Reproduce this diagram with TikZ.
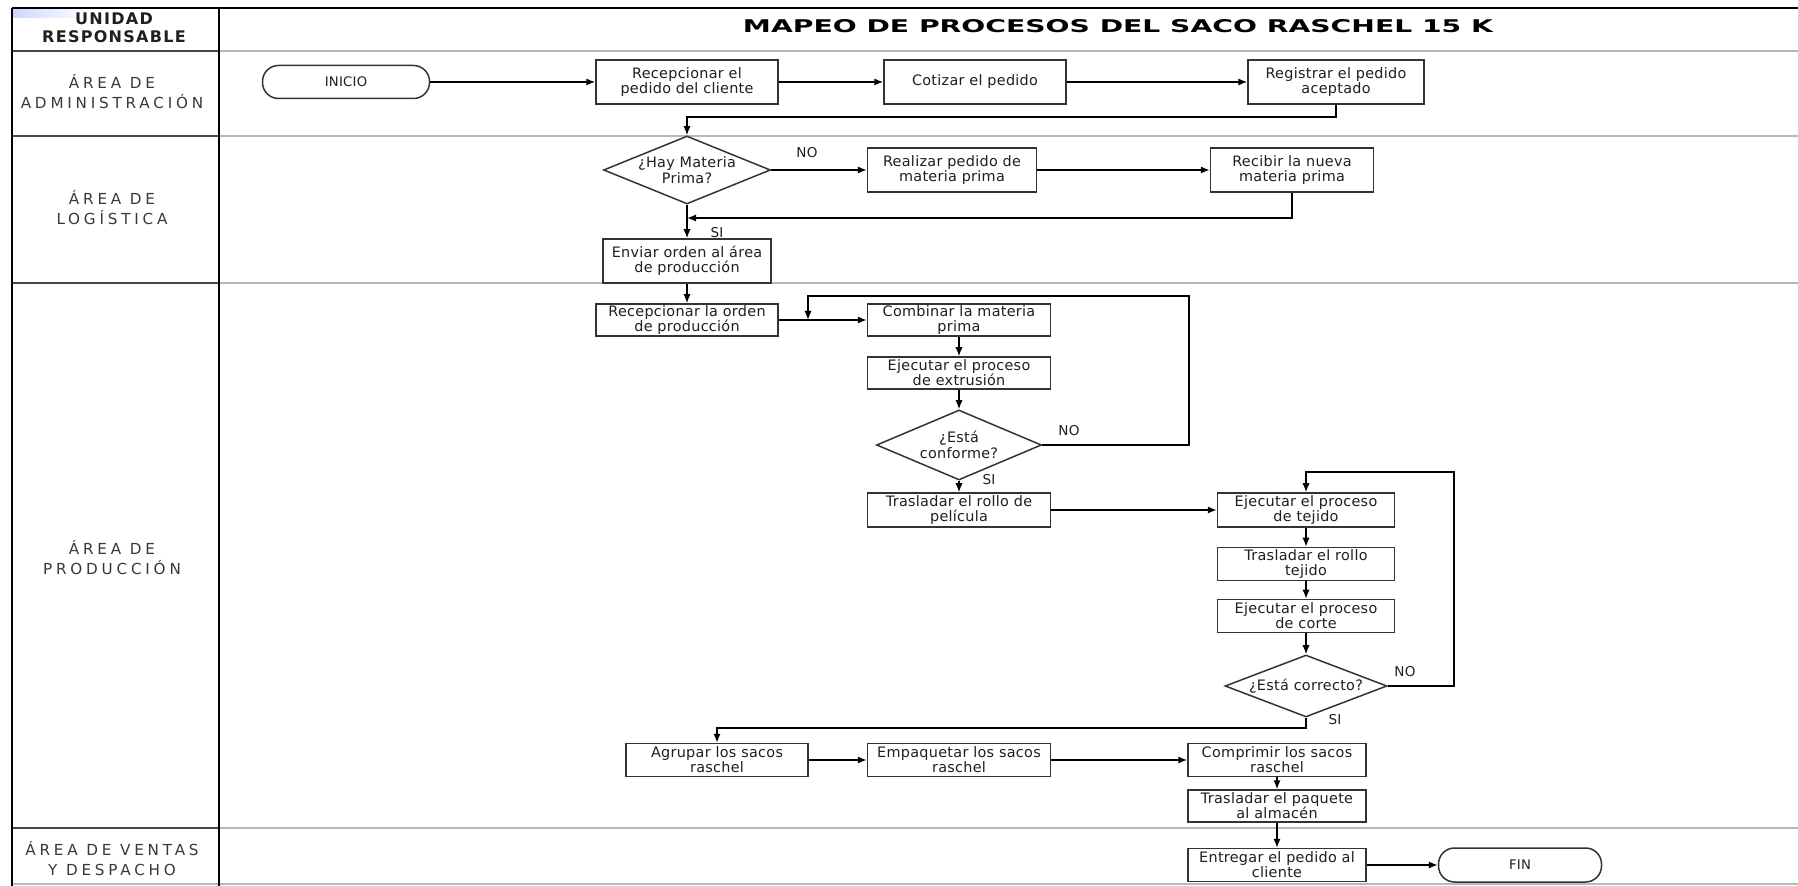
\documentclass[tikz,border=0pt]{standalone}
\usepackage{fontspec}
\usepackage{graphicx}
\setmainfont{DejaVu Sans}
\newfontfamily\boxfont{DejaVu Sans}[LetterSpace=2]
\newfontfamily\lanefont{DejaVu Sans}[LetterSpace=25]
\newfontfamily\headfont{DejaVu Sans}[LetterSpace=8]
\usetikzlibrary{arrows.meta,shapes.geometric}

\definecolor{laneline}{gray}{0.72}
\definecolor{frameline}{gray}{0.28}
\definecolor{ink}{gray}{0.12}
\definecolor{lanetext}{gray}{0.22}

\tikzset{
  proc/.style={draw=black!80, line width=0.75pt, fill=white, inner sep=0pt,
    align=center, text=ink, font=\boxfont\fontsize{7.2}{7.6}\selectfont},
  term/.style={proc, rounded corners=8pt, font=\boxfont\fontsize{6.6}{7}\selectfont},
  decision/.style={diamond, draw=black!80, line width=0.75pt, fill=white, inner sep=0pt},
  dtext/.style={inner sep=0pt, align=center, text=ink, font=\boxfont\fontsize{7.2}{8}\selectfont},
  link/.style={draw=black, line width=0.75pt},
  conn/.style={link, -{Latex[length=4.5pt,width=3.6pt]}},
  tag/.style={inner sep=0pt, text=ink, font=\boxfont\fontsize{6.8}{8}\selectfont},
  lane/.style={inner sep=0pt, align=center, text=lanetext, font=\lanefont\fontsize{7.6}{10}\selectfont},
  head/.style={inner sep=0pt, align=center, text=ink, font=\headfont\bfseries\fontsize{8}{10}\selectfont},
}

\begin{document}
\begin{tikzpicture}[x=0.5pt,y=-0.5pt]
\useasboundingbox (0,0) rectangle (1798,886);

% ---- swimlane grid ----
\shade[left color=cyan!25!blue!20, right color=white] (13,9) rectangle (90,18);
\foreach \yy in {51,136,283,828} {
  \draw[laneline, line width=1pt] (219,\yy) -- (1798,\yy);
  \draw[frameline, line width=1.1pt] (12,\yy) -- (219,\yy);
}
\draw[laneline, line width=0.8pt] (12,884) -- (1798,884);
\draw[black, line width=1.3pt] (12,8) -- (1798,8);
\draw[black, line width=1.2pt] (12,8) -- (12,886);
\draw[black, line width=1.2pt] (219,8) -- (219,886);

% ---- header ----
\node[head] (hunit) at (114,28) {UNIDAD\\[-1pt]RESPONSABLE};
\node[inner sep=0pt] (title) at (1118,26)
  {\resizebox{375pt}{6.5pt}{\bfseries MAPEO DE PROCESOS DEL SACO RASCHEL 15 K}};

% ---- lane labels ----
\node[lane] (ladm) at (112,92)  {ÁREA DE\\ADMINISTRACIÓN};
\node[lane] (llog) at (112,208) {ÁREA DE\\LOGÍSTICA};
\node[lane] (lpro) at (112,558) {ÁREA DE\\PRODUCCIÓN};
\node[lane] (lven) at (112,859) {ÁREA DE VENTAS\\Y DESPACHO};

% ---- administration ----
\node[term, minimum width=83.5pt, minimum height=16.5pt] (inicio) at (346,82) {INICIO};
\node[proc, minimum width=91pt, minimum height=22pt] (p1) at (687,82) {Recepcionar el\\pedido del cliente};
\node[proc, minimum width=91pt, minimum height=22pt] (p2) at (975,82) {Cotizar el pedido};
\node[proc, minimum width=88pt, minimum height=22pt] (p3) at (1336,82) {Registrar el pedido\\aceptado};

% ---- logistics ----
\node[decision, minimum width=83.5pt, minimum height=34pt] (d1) at (687,170) {};
\node[dtext] (d1t) at (687,170) {¿Hay Materia\\Prima?};
\node[proc, minimum width=84.5pt, minimum height=22pt] (p4) at (952,170) {Realizar pedido de\\materia prima};
\node[proc, minimum width=81.5pt, minimum height=22pt] (p5) at (1292,170) {Recibir la nueva\\materia prima};
\node[proc, minimum width=84pt, minimum height=22pt] (p6) at (687,261) {Enviar orden al área\\de producción};

% ---- production ----
\node[proc, minimum width=91pt, minimum height=16pt] (p7) at (687,320) {Recepcionar la orden\\de producción};
\node[proc, minimum width=91.5pt, minimum height=16pt] (p8) at (959,320) {Combinar la materia\\prima};
\node[proc, minimum width=91.5pt, minimum height=16pt] (p9) at (959,373) {Ejecutar el proceso\\de extrusión};
\node[decision, minimum width=82.5pt, minimum height=35pt] (d2) at (959,445) {};
\node[dtext] (d2t) at (959,445) {¿Está\\conforme?};
\node[proc, minimum width=91.5pt, minimum height=17pt] (p10) at (959,510) {Trasladar el rollo de\\película};
\node[proc, minimum width=88.5pt, minimum height=17pt] (p11) at (1306,510) {Ejecutar el proceso\\de tejido};
\node[proc, minimum width=88.5pt, minimum height=16.5pt] (p12) at (1306,564) {Trasladar el rollo\\tejido};
\node[proc, minimum width=88.5pt, minimum height=16.5pt] (p13) at (1306,616) {Ejecutar el proceso\\de corte};
\node[decision, minimum width=81pt, minimum height=31pt] (d3) at (1306,686) {};
\node[dtext] (d3t) at (1306,686) {¿Está correcto?};
\node[proc, minimum width=91pt, minimum height=16.5pt] (p14) at (717,760) {Agrupar los sacos\\raschel};
\node[proc, minimum width=91.5pt, minimum height=16.5pt] (p15) at (959,760) {Empaquetar los sacos\\raschel};
\node[proc, minimum width=89pt, minimum height=16.5pt] (p16) at (1277,760) {Comprimir los sacos\\raschel};
\node[proc, minimum width=89pt, minimum height=16pt] (p17) at (1277,806) {Trasladar el paquete\\al almacén};

% ---- sales and dispatch ----
\node[proc, minimum width=89pt, minimum height=16.5pt] (p18) at (1277,865) {Entregar el pedido al\\cliente};
\node[term, minimum width=81.5pt, minimum height=17pt] (fin) at (1520,865) {FIN};

% ---- bend points ----
\coordinate (b1) at (1336,117);
\coordinate (b2) at (687,117);
\coordinate (b3) at (1292,218);
\coordinate (j1) at (687,218);
\coordinate (b4) at (1189,445);
\coordinate (b5) at (1189,296);
\coordinate (b6) at (808,296);
\coordinate (j2) at (808,320);
\coordinate (b7) at (1454,686);
\coordinate (b8) at (1454,472);
\coordinate (b9) at (1306,472);
\coordinate (b10) at (1306,728);
\coordinate (b11) at (717,728);

% ---- connectors ----
\draw[conn] (inicio) -- (p1);
\draw[conn] (p1) -- (p2);
\draw[conn] (p2) -- (p3);
\draw[conn] (p3.south) -- (b1) -- (b2) -- (d1.north);
\draw[conn] (d1.east) -- (p4.west);
\draw[conn] (p4) -- (p5);
\draw[conn] (p5.south) -- (b3) -- (j1);
\draw[conn] (d1.south) -- (p6.north);
\draw[conn] (p6.south) -- (p7.north);
\draw[conn] (p7.east) -- (p8.west);
\draw[conn] (d2.east) -- (b4) -- (b5) -- (b6) -- (j2);
\draw[conn] (p8) -- (p9);
\draw[conn] (p9.south) -- (d2.north);
\draw[conn] (d2.south) -- (p10.north);
\draw[conn] (p10) -- (p11);
\draw[conn] (d3.east) -- (b7) -- (b8) -- (b9) -- (p11.north);
\draw[conn] (p11) -- (p12);
\draw[conn] (p12) -- (p13);
\draw[conn] (p13.south) -- (d3.north);
\draw[conn] (d3.south) -- (b10) -- (b11) -- (p14.north);
\draw[conn] (p14) -- (p15);
\draw[conn] (p15) -- (p16);
\draw[conn] (p16) -- (p17);
\draw[conn] (p17) -- (p18);
\draw[conn] (p18) -- (fin);

% ---- branch labels ----
\node[tag] (no1) at (807,153) {NO};
\node[tag] (si1) at (717,233) {SI};
\node[tag] (no2) at (1069,431) {NO};
\node[tag] (si2) at (989,480) {SI};
\node[tag] (no3) at (1405,672) {NO};
\node[tag] (si3) at (1335,720) {SI};
\end{tikzpicture}
\end{document}
